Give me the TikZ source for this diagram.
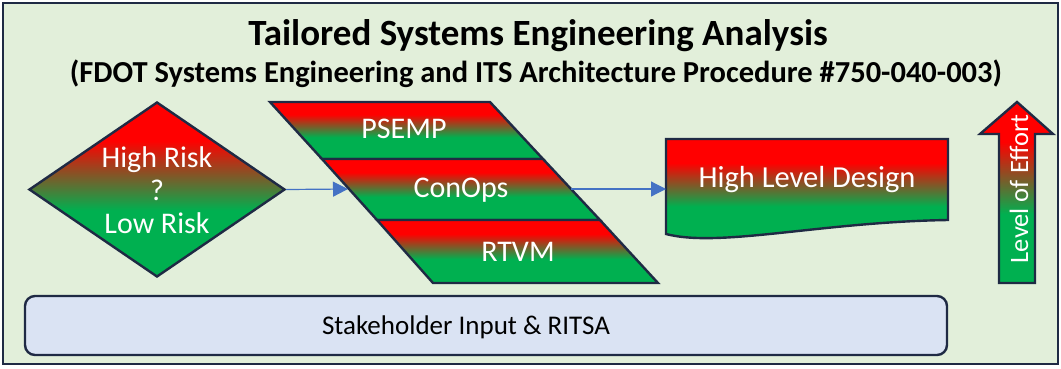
\documentclass[tikz,border=0pt]{standalone}
\usepackage{fontspec}
\setmainfont{Carlito}
\usetikzlibrary{arrows.meta,shapes.geometric}
\definecolor{bgg}{HTML}{E2EFDA}
\definecolor{navy}{HTML}{1F2A44}
\definecolor{rr}{HTML}{FF0000}
\definecolor{gg}{HTML}{00B050}
\definecolor{blu}{HTML}{4472C4}
\definecolor{sbox}{HTML}{DAE3F3}
\pgfdeclareverticalshading{rg}{100bp}{color(0bp)=(gg); color(25bp)=(gg); color(44bp)=(gg); color(64bp)=(rr); color(75bp)=(rr); color(100bp)=(rr)}
\tikzset{
  grad/.style={draw=navy, line width=2.4pt, line join=miter, shade, shading=rg},
  wtxt/.style={text=white, inner sep=0pt, align=center},
  conn/.style={blu, line width=1.2pt, -{Triangle[length=15pt,width=15pt]}},
}
\begin{document}
\begin{tikzpicture}[x=1pt,y=-1pt]
\useasboundingbox (0,0) rectangle (1061,368);
% frame
\path[draw=navy, line width=2.4pt, fill=bgg] (3,3) rectangle (1058,364);
% title
\node[font=\bfseries\fontsize{37}{42}\selectfont, inner sep=0pt] (title) at (538,36) {Tailored Systems Engineering Analysis};
\node[font=\bfseries\fontsize{30.5}{36}\selectfont, inner sep=0pt] (subtitle) at (536,74) {(FDOT Systems Engineering and ITS Architecture Procedure \#750-040-003)};
% diamond
\node[grad, diamond, minimum width=256pt, minimum height=175pt, inner sep=0pt] (risk) at (157,189.5) {};
\node[wtxt, font=\fontsize{30}{33}\selectfont] (risktxt) at (157,190) {High Risk\\?\\Low Risk};
% parallelogram bands
\path[grad] (270,102) -- (490,102) -- (543,159) -- (322,159) -- cycle;
\path[grad] (322,159) -- (543,159) -- (600,220) -- (377,220) -- cycle;
\path[grad] (377,220) -- (600,220) -- (658,283) -- (433,283) -- cycle;
\node[wtxt, font=\fontsize{30}{34}\selectfont] (psemp) at (404,129) {PSEMP};
\node[wtxt, font=\fontsize{30}{34}\selectfont] (conops) at (461,190) {ConOps};
\node[wtxt, font=\fontsize{30}{34}\selectfont] (rtvm) at (518,252) {RTVM};
\coordinate (pin) at (348,189);
\coordinate (pout) at (571,189);
% high level design
\path[grad] (666,139) -- (948,139) -- (948,220) .. controls (820,222) and (720,248) .. (666,234) -- cycle;
\node[wtxt, font=\fontsize{30.5}{34}\selectfont] (hld) at (807,180) {High Level Design};
\coordinate (hldin) at (666,189);
% level of effort arrow
\path[grad] (1017,102) -- (1053,134) -- (1035,134) -- (1035,283) -- (999,283) -- (999,134) -- (980,134) -- cycle;
\node[wtxt, rotate=90, font=\fontsize{26.5}{30}\selectfont] (loe) at (1019,189) {Level of Effort};
% stakeholder
\node[draw=navy, line width=2.4pt, fill=sbox, rounded corners=10pt, minimum width=922pt, minimum height=59pt, inner sep=0pt] (stk) at (486,325.5) {};
\node[inner sep=0pt, font=\fontsize{27}{32}\selectfont] (stktxt) at (466,327) {Stakeholder Input \& RITSA};
% connectors
\draw[conn] (risk.east) -- (pin);
\draw[conn] (pout) -- (hldin);
\end{tikzpicture}
\end{document}
